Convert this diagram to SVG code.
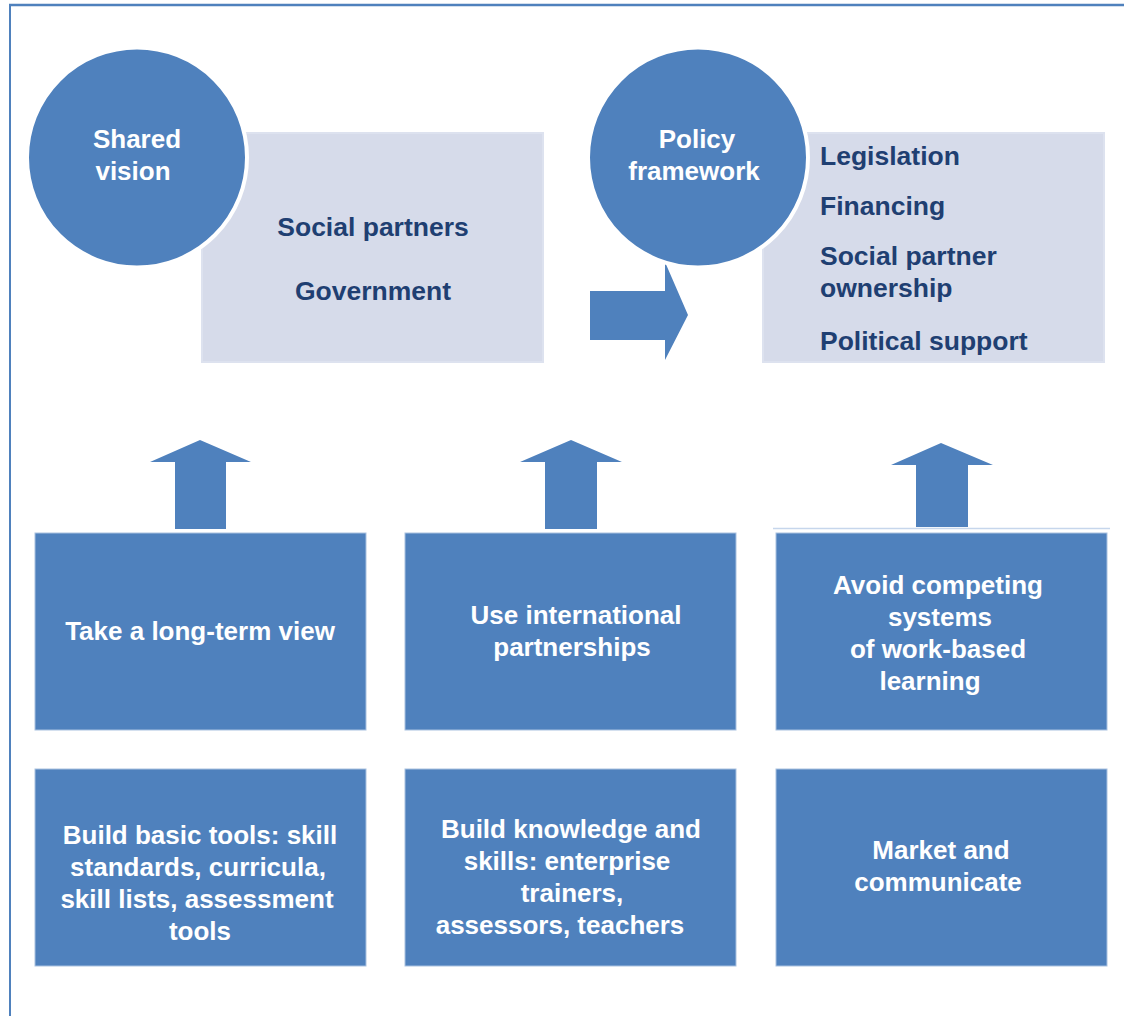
<svg xmlns="http://www.w3.org/2000/svg" width="1124" height="1016" viewBox="0 0 1124 1016">
<style>
.blue{fill:#4f81bd}
.box{fill:#4f81bd;stroke:#a9c1e0;stroke-width:1}
.light{fill:#d6dbea;stroke:#dde2ef;stroke-width:2}
.circ{fill:#4f81bd;stroke:#ffffff;stroke-width:4}
.wt{font-family:"Liberation Sans",Arial,sans-serif;font-weight:bold;font-size:26px;fill:#ffffff;text-anchor:middle}
.ct{font-family:"Liberation Sans",Arial,sans-serif;font-weight:bold;font-size:26px;fill:#ffffff;text-anchor:middle}
.dt{font-family:"Liberation Sans",Arial,sans-serif;font-weight:bold;font-size:26.5px;fill:#1f3f72}
</style>
<rect width="1124" height="1016" fill="#ffffff"/>
<g id="frame">
<line x1="9" y1="5" x2="1124" y2="5" stroke="#4f81bd" stroke-width="2.5"/>
<line x1="10" y1="4" x2="10" y2="1016" stroke="#4f81bd" stroke-width="2"/>
</g>
<g id="connectors">
<polygon class="blue" points="590,291 665,291 665,262 688,315 665,360 665,340 590,340"/>
<polygon class="blue" points="175,529 175,462 150,462 200,440 251,462 226,462 226,529"/>
<polygon class="blue" points="545,529 545,462 520,462 571,440 622,462 597,462 597,529"/>
<polygon class="blue" points="916,527 916,465 891,465 941,443 993,465 968,465 968,527"/>
<line x1="773" y1="528.5" x2="1110" y2="528.5" stroke="#c6d6ec" stroke-width="1.5"/>
</g>
<g id="shared-box">
<rect class="light" x="202" y="133" width="341" height="229"/>
<text class="dt" x="373" y="236" text-anchor="middle">Social partners</text>
<text class="dt" x="373" y="300" text-anchor="middle">Government</text>
</g>
<g id="shared-vision">
<circle class="circ" cx="137" cy="157.5" r="110"/>
<text class="ct" x="137" y="148">Shared</text>
<text class="ct" x="133" y="180">vision</text>
</g>
<g id="policy-box">
<rect class="light" x="763" y="133" width="341" height="229"/>
<text class="dt" x="820" y="165">Legislation</text>
<text class="dt" x="820" y="215">Financing</text>
<text class="dt" x="820" y="265">Social partner</text>
<text class="dt" x="820" y="297">ownership</text>
<text class="dt" x="820" y="350">Political support</text>
</g>
<g id="policy-framework">
<circle class="circ" cx="698" cy="157.5" r="110"/>
<text class="ct" x="697" y="148">Policy</text>
<text class="ct" x="694" y="180">framework</text>
</g>
<g id="long-term">
<rect class="box" x="35" y="533" width="331" height="197"/>
<text class="wt" x="200" y="640">Take a long-term view</text>
</g>
<g id="international">
<rect class="box" x="405" y="533" width="331" height="197"/>
<text class="wt" x="576" y="624">Use international</text>
<text class="wt" x="572" y="656">partnerships</text>
</g>
<g id="avoid">
<rect class="box" x="776" y="533" width="331" height="197"/>
<text class="wt" x="938" y="594">Avoid competing</text>
<text class="wt" x="940" y="626">systems</text>
<text class="wt" x="938" y="658">of work-based</text>
<text class="wt" x="930" y="690">learning</text>
</g>
<g id="basic-tools">
<rect class="box" x="35" y="769" width="331" height="197"/>
<text class="wt" x="200" y="844">Build basic tools: skill</text>
<text class="wt" x="198" y="876">standards, curricula,</text>
<text class="wt" x="197" y="908">skill lists, assessment</text>
<text class="wt" x="200" y="940">tools</text>
</g>
<g id="knowledge">
<rect class="box" x="405" y="769" width="331" height="197"/>
<text class="wt" x="571" y="838">Build knowledge and</text>
<text class="wt" x="567" y="870">skills: enterprise</text>
<text class="wt" x="572" y="902">trainers,</text>
<text class="wt" x="560" y="934">assessors, teachers</text>
</g>
<g id="market">
<rect class="box" x="776" y="769" width="331" height="197"/>
<text class="wt" x="941" y="859">Market and</text>
<text class="wt" x="938" y="891">communicate</text>
</g>
</svg>
